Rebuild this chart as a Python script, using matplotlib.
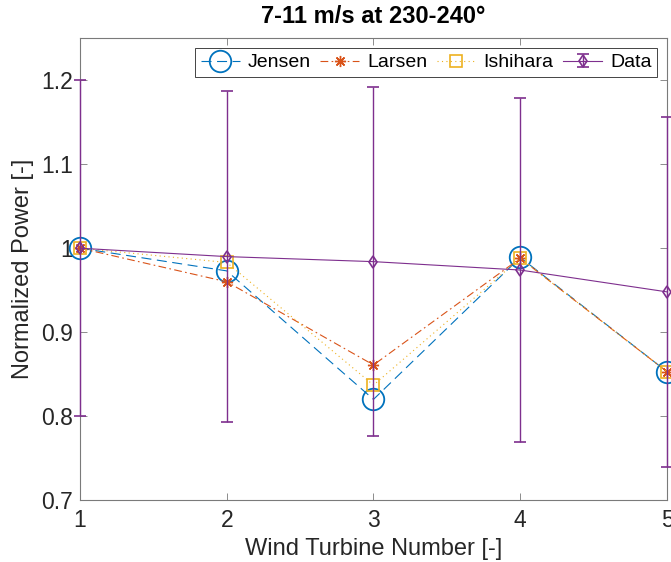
import matplotlib
matplotlib.use("Agg")
import matplotlib.pyplot as plt
from matplotlib.container import ErrorbarContainer
from matplotlib.legend_handler import HandlerErrorbar
import numpy as np

plt.rcParams['font.family'] = ['Liberation Sans', 'DejaVu Sans']

turbines = [1, 2, 3, 4, 5]
jensen = [1.000, 0.973, 0.820, 0.989, 0.853]
larsen = [1.000, 0.960, 0.861, 0.988, 0.853]
ishihara = [1.000, 0.983, 0.837, 0.988, 0.853]
data_mean = [1.000, 0.990, 0.984, 0.974, 0.948]
data_err = [0.200, 0.197, 0.208, 0.205, 0.208]

xticks = [1, 2, 3, 4, 5]
yticks = [0.7, 0.8, 0.9, 1.0, 1.1, 1.2]
yticklabels = ['0.7', '0.8', '0.9', '1', '1.1', '1.2']

c_jensen = '#0072BD'
c_larsen = '#D95319'
c_ishihara = '#EDB120'
c_data = '#7E2F8E'
axis_col = '#262626'

fig = plt.figure(figsize=(6.71, 5.62), dpi=100)
ax = fig.add_axes([0.1192, 0.110, 0.8748, 0.822])

lw = 0.8
ax.plot(turbines, jensen, linestyle=(0, (9, 5)), color=c_jensen, lw=lw,
        marker='o', markersize=15.5, markerfacecolor='none',
        markeredgecolor=c_jensen, markeredgewidth=1.3, label='Jensen',
        clip_on=False, zorder=3)
ax.plot(turbines, larsen, linestyle=(0, (7, 3, 1.5, 3)), color=c_larsen, lw=lw,
        marker=(8, 2, 0), markersize=8, markeredgewidth=1.0,
        markeredgecolor=c_larsen, label='Larsen',
        clip_on=False, zorder=4)
ax.plot(turbines, ishihara, linestyle=(0, (1, 3)), color=c_ishihara, lw=lw,
        marker='s', markersize=9, markerfacecolor='none',
        markeredgecolor=c_ishihara, markeredgewidth=1.2, label='Ishihara',
        clip_on=False, zorder=5)
eb = ax.errorbar(turbines, data_mean, yerr=data_err, color=c_data, lw=lw,
                 elinewidth=1.0, capsize=4.5, capthick=1.0,
                 marker='d', markersize=6.5, markerfacecolor='none',
                 markeredgecolor=c_data, markeredgewidth=1.2, label='Data',
                 zorder=6)
for artist in eb.lines[0:1] + tuple(eb.lines[1]) + tuple(eb.lines[2]):
    artist.set_clip_on(False)

ax.set_xlim(1, 5)
ax.set_ylim(0.7, 1.25)
ax.set_xticks(xticks)
ax.set_xticklabels([str(t) for t in xticks])
ax.set_yticks(yticks)
ax.set_yticklabels(yticklabels)

for s in ax.spines.values():
    s.set_color('#7a7a7a')
    s.set_linewidth(0.8)
ax.tick_params(axis='both', direction='in', length=5, width=0.6,
               color='#7a7a7a', labelsize=16.5, labelcolor=axis_col,
               top=True, right=True)
ax.tick_params(axis='x', pad=6)
ax.tick_params(axis='y', pad=5)

ax.set_xlabel('Wind Turbine Number [-]', fontsize=17, color=axis_col, labelpad=5)
ax.set_ylabel('Normalized Power [-]', fontsize=17, color=axis_col, labelpad=5)
ax.set_title('7-11 m/s at 230-240°', fontsize=17, fontweight='bold',
             color='#000000', pad=11)

leg = ax.legend(loc='upper right', ncol=4, fontsize=14, frameon=True,
                fancybox=False, edgecolor='#262626', framealpha=1,
                handlelength=2.0, handletextpad=0.4, columnspacing=0.5,
                borderpad=0.3, borderaxespad=0.5, bbox_to_anchor=(1.0, 1.0),
                handler_map={ErrorbarContainer: HandlerErrorbar(yerr_size=0.35)})
leg.get_frame().set_linewidth(0.6)

fig.savefig('out.png', dpi=100)
